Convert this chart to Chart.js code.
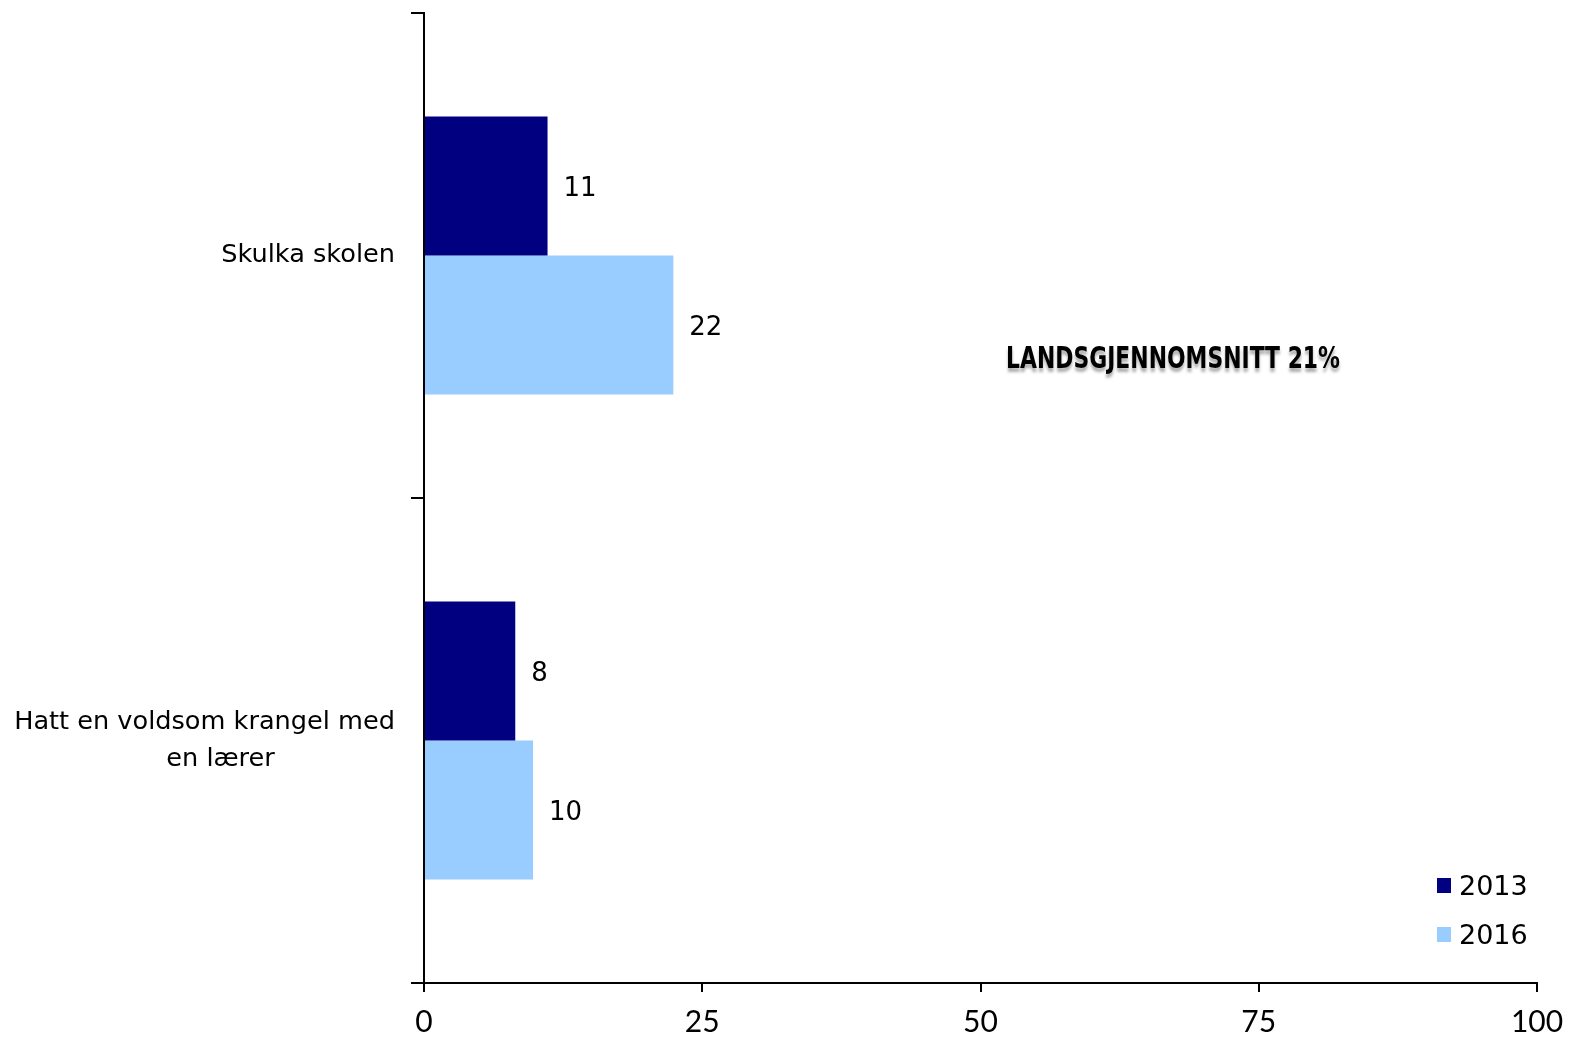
<!DOCTYPE html>
<html>
<head>
<meta charset="utf-8">
<script src="https://cdn.jsdelivr.net/npm/chart.js@4.4.0/dist/chart.umd.min.js"></script>
<style>
  html, body { margin: 0; padding: 0; background: #fff; }
  #wrap { width: 1573px; height: 1037px; }
</style>
</head>
<body>
<div id="wrap"><canvas id="chart"></canvas></div>
<script>
// chart data
var categories = [['Skulka skolen'], ['Hatt en voldsom krangel med', 'en lærer']];
var years = ['2013', '2016'];
var values2013 = [11.1, 8.2];
var values2016 = [22.4, 9.8];
var xTicks = [0, 25, 50, 75, 100];
var noteText = 'LANDSGJENNOMSNITT 21%';

var colors = ['#000080', '#99CCFF'];

// category names left of the axis, lines centred inside a right-aligned block
var categoryLabels = {
    id: 'categoryLabels',
    afterDraw: function (chart) {
        var ctx = chart.ctx;
        var yScale = chart.scales.y;
        var right = yScale.right - 29;
        var lineH = 37;
        ctx.save();
        ctx.font = '25.6px "DejaVu Sans", Verdana, sans-serif';
        ctx.fillStyle = '#000';
        ctx.textBaseline = 'middle';
        ctx.textAlign = 'center';
        chart.data.labels.forEach(function (lines, i) {
            var w = 0;
            lines.forEach(function (l) { w = Math.max(w, ctx.measureText(l).width); });
            var cx = right - w / 2;
            var cy = yScale.getPixelForValue(i);
            var y0 = cy - (lines.length - 1) * lineH / 2;
            lines.forEach(function (l, k) {
                ctx.fillText(l, cx + (k > 0 ? 16 : 0), y0 + k * lineH);
            });
        });
        ctx.restore();
    }
};

// write the rounded value to the right of every bar
var valueLabels = {
    id: 'valueLabels',
    afterDatasetsDraw: function (chart) {
        var ctx = chart.ctx;
        ctx.save();
        ctx.font = '26px "DejaVu Sans", Verdana, sans-serif';
        ctx.fillStyle = '#000';
        ctx.textAlign = 'left';
        ctx.textBaseline = 'middle';
        chart.data.datasets.forEach(function (ds, i) {
            chart.getDatasetMeta(i).data.forEach(function (bar, j) {
                ctx.fillText(Math.round(ds.data[j]), bar.x + 16, bar.y + 3);
            });
        });
        ctx.restore();
    }
};

// text box and legend
var extras = {
    id: 'extras',
    afterDraw: function (chart) {
        var ctx = chart.ctx;
        var area = chart.chartArea;
        ctx.save();
        ctx.font = 'bold 31px "DejaVu Sans", sans-serif';
        ctx.textAlign = 'center';
        ctx.textBaseline = 'middle';
        ctx.fillStyle = '#000';
        ctx.shadowColor = 'rgba(120,120,120,0.6)';
        ctx.shadowOffsetY = 4;
        ctx.shadowBlur = 3;
        var nx = chart.scales.x.getPixelForValue(67.3);
        var ny = area.top + (area.bottom - area.top) * 0.358;
        var sx = 334 / ctx.measureText(noteText).width;
        ctx.translate(nx, ny);
        ctx.scale(sx, 1);
        ctx.fillText(noteText, 0, 0);
        ctx.restore();

        ctx.save();
        ctx.font = '27px "DejaVu Sans", Verdana, sans-serif';
        ctx.textBaseline = 'middle';
        ctx.textAlign = 'left';
        chart.data.datasets.forEach(function (ds, i) {
            var y = 886 + i * 49;
            ctx.fillStyle = ds.backgroundColor;
            ctx.fillRect(1437, y - 8, 14, 15);
            ctx.fillStyle = '#000';
            ctx.fillText(ds.label, 1459, y + 2);
        });
        ctx.restore();
    }
};

var config = {
    type: 'bar',
    data: {
        labels: categories,
        datasets: [{
            label: years[0],
            data: values2013,
            backgroundColor: colors[0]
        }, {
            label: years[1],
            data: values2016,
            backgroundColor: colors[1]
        }]
    },
    options: {
        indexAxis: 'y',
        responsive: true,
        maintainAspectRatio: false,
        animation: false,
        layout: { padding: { top: 13, right: 36, left: 0, bottom: 0 } },
        datasets: { bar: { barPercentage: 1, categoryPercentage: 0.573 } },
        plugins: {
            legend: { display: false },
            tooltip: { enabled: false }
        },
        scales: {
            x: {
                min: 0,
                max: 100,
                afterBuildTicks: function (scale) {
                    scale.ticks = xTicks.map(function (v) { return { value: v }; });
                },
                afterFit: function (scale) {
                    scale.height = 54;
                    scale.paddingLeft = 0;
                    scale.paddingRight = 0;
                },
                border: { color: '#000', width: 2 },
                grid: { drawOnChartArea: false, drawTicks: true, tickLength: 9, color: '#000', lineWidth: 2 },
                ticks: {
                    color: '#000',
                    padding: 12,
                    font: { family: 'Lato, "Open Sans", sans-serif', size: 30 }
                }
            },
            y: {
                offset: true,
                afterFit: function (scale) { scale.width = 424; },
                border: { color: '#000', width: 2 },
                grid: { offset: true, drawOnChartArea: false, drawTicks: true, tickLength: 13, color: '#000', lineWidth: 2 },
                ticks: { display: false }
            }
        }
    },
    plugins: [valueLabels, categoryLabels, extras]
};

var ctx = document.getElementById('chart').getContext('2d');
window.myBar = new Chart(ctx, config);
</script>
</body>
</html>
